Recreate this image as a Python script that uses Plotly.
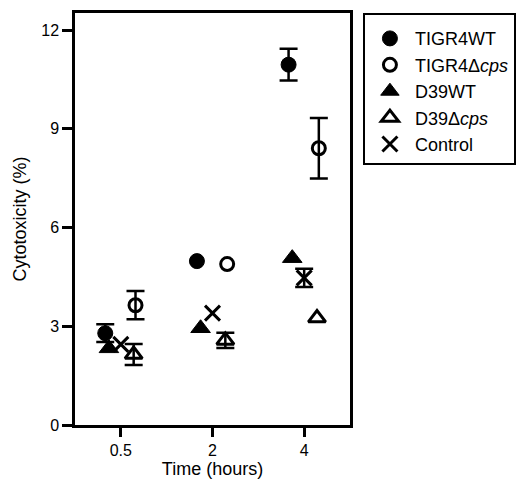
import plotly.graph_objects as go

# ---- data ----
time_labels = ["0.5", "2", "4"]
series_names = ["TIGR4WT", "TIGR4Δ<i>cps</i>", "D39WT", "D39Δ<i>cps</i>", "Control"]
tigr4_wt = [2.79, 4.98, 10.95]
tigr4_wt_err = [0.27, None, 0.48]
tigr4_cps = [3.64, 4.89, 8.41]
tigr4_cps_err = [0.43, None, 0.92]
d39_wt = [2.33, 2.94, 5.07]
d39_wt_err = [None, None, None]
d39_cps = [2.14, 2.57, 3.25]
d39_cps_err = [0.32, 0.23, None]
control = [2.45, 3.40, 4.47]
control_err = [None, None, 0.28]
y_ticks = [0, 3, 6, 9, 12]

values = [tigr4_wt, tigr4_cps, d39_wt, d39_cps, control]
errors = [tigr4_wt_err, tigr4_cps_err, d39_wt_err, d39_cps_err, control_err]

# ---- styles ----
offsets = [-0.17, 0.16, -0.13, 0.14, 0.0]
symbols = ["circle", "circle-open", "triangle-up", "triangle-up-open", "x-thin"]
sizes = [15, 13, 17, 15, 15]
line_w = [1, 3, 1, 3, 3]
FONT = "Liberation Sans, Arial, sans-serif"

fig = go.Figure()
base_x = list(range(len(time_labels)))
for i, name in enumerate(series_names):
    xs = [b + offsets[i] for b in base_x]
    # missing errors -> non-numeric so plotly.js skips drawing the bar
    err = ["NaN" if e is None else e for e in errors[i]]
    fig.add_trace(go.Scatter(
        x=xs, y=values[i], mode="markers", name=name,
        legendgroup=f"g{i}",
        marker=dict(symbol=symbols[i], size=sizes[i], color="black",
                    line=dict(color="black", width=line_w[i])),
        error_y=dict(type="data", array=err, visible=True,
                     color="black", thickness=2.5, width=9),
    ))

fig.update_layout(
    width=521, height=480,
    margin=dict(l=75, r=171, t=13, b=55, autoexpand=False),
    plot_bgcolor="white", paper_bgcolor="white",
    font=dict(family=FONT, size=16, color="black"),
    showlegend=True,
    legend=dict(
        x=1.047, y=1.0, xanchor="left", yanchor="top",
        bordercolor="black", borderwidth=2,
        font=dict(family=FONT, size=18, color="black"),
        tracegroupgap=0, itemwidth=40,
        title=dict(text=" ", font=dict(size=4)),
    ),
)
fig.update_xaxes(
    range=[-0.5, 2.5], tickmode="array", tickvals=base_x, ticktext=time_labels,
    showline=True, linecolor="black", linewidth=2.5, mirror=True,
    ticks="outside", ticklen=9, tickwidth=2.5, tickcolor="black",
    showgrid=False, zeroline=False, automargin=True,
    title=dict(text="Time (hours)", font=dict(size=18), standoff=4),
    tickfont=dict(size=16), ticklabelstandoff=0,
)
fig.update_yaxes(
    range=[0, 12.52], tickmode="array", tickvals=y_ticks,
    showline=True, linecolor="black", linewidth=2.5, mirror=True,
    ticks="outside", ticklen=10, tickwidth=2.5, tickcolor="black",
    showgrid=False, zeroline=False, automargin=False,
    title=dict(text="Cytotoxicity (%)", font=dict(size=18), standoff=10),
    tickfont=dict(size=16),
)

fig.write_html("out.html")
